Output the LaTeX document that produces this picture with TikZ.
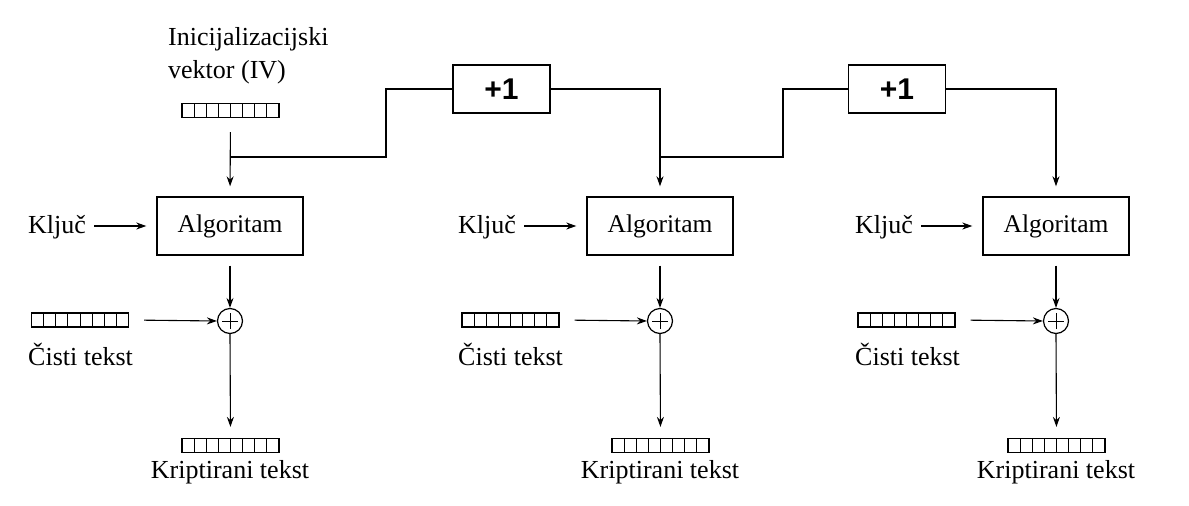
\documentclass[tikz,border=0pt]{standalone}
\usepackage{fontspec}
\setmainfont{Liberation Serif}
\newfontfamily\plusfont{Liberation Sans}
\usetikzlibrary{arrows.meta}
\tikzset{
  txt/.style={inner sep=0pt, anchor=base west, font=\fontsize{26}{30}\selectfont},
  algbox/.style={draw, line width=1.4pt, minimum width=146pt, minimum height=58pt, inner sep=0pt, font=\fontsize{25.5}{30}\selectfont},
  incbox/.style={draw, line width=1.8pt, minimum width=97pt, minimum height=48pt, inner sep=0pt, font=\plusfont\bfseries\fontsize{30}{32}\selectfont},
  reg/.style={draw, line width=1.2pt, minimum width=97pt, minimum height=14pt, inner sep=0pt,
    path picture={\foreach \i in {1,...,7}{\draw[line width=1pt] ([xshift=\i*12.125pt]path picture bounding box.south west) -- ([xshift=\i*12.125pt]path picture bounding box.north west);}}},
  xorc/.style={draw, circle, line width=1.2pt, minimum size=25pt, inner sep=0pt,
    path picture={\draw[line width=1pt] ([xshift=-8pt]path picture bounding box.center) -- ([xshift=8pt]path picture bounding box.center) ([yshift=-8pt]path picture bounding box.center) -- ([yshift=8pt]path picture bounding box.center);}},
  arr/.style={line width=1.1pt, -{Stealth[length=10pt,width=7pt]}},
  wire/.style={line width=2pt},
}
\begin{document}
\begin{tikzpicture}[x=1pt,y=-1pt]
\useasboundingbox (0,0) rectangle (1189,506);
% IV
\node[txt] (ivt1) at (168,45) {Inicijalizacijski};
\node[txt] (ivt2) at (168,78) {vektor (IV)};
\node[reg] (iv) at (230.5,110.5) {};
% counter boxes
\node[incbox] (p1) at (501.5,89) {+1};
\node[incbox] (p2) at (897,89) {+1};
% columns
\foreach \n/\cx/\kx/\px/\pw in {1/230/28/32/128, 2/660/458/462/559, 3/1056/855/857/956}{
  \node[algbox] (alg\n) at (\cx,226) {Algoritam};
  \node[txt] (k\n) at (\kx,233) {Ključ};
  \node[xorc] (x\n) at (\cx,321) {};
  \node[reg] (pt\n) at ({(\px+\pw)/2},320) {};
  \node[txt] (ptt\n) at (\kx,365) {Čisti tekst};
  \node[reg] (ct\n) at ({\cx+0.5},445.5) {};
  \node[txt, anchor=base] (ctt\n) at ({\cx},478) {Kriptirani tekst};
  \draw[arr, shorten <=8pt, shorten >=10pt] (k\n.east |- alg\n.west) -- (alg\n.west);
  \draw[arr, shorten <=10pt] (alg\n.south) -- (x\n.north);
  \draw[arr, shorten <=15pt] (pt\n.east) -- (x\n.west);
  \draw[arr, shorten >=11pt] (x\n.south) -- (ct\n.north);
}
% IV to first algorithm
\draw[arr, shorten <=14pt, shorten >=10pt] (iv.south) -- (alg1.north);
\coordinate (j1) at (231,157);
\coordinate (j2) at (660,157);
\coordinate (t3) at (1056,132);
% counter chain
\draw[wire] (j1) -- (386,157) |- (p1.west);
\draw[wire] (p1.east) -| (j2) -- (783,157) |- (p2.west);
\draw[wire] (p2.east) -| (t3);
\draw[arr, shorten >=10pt] (660,132) -- (alg2.north);
\draw[arr, shorten >=10pt] (t3) -- (alg3.north);
\end{tikzpicture}
\end{document}
